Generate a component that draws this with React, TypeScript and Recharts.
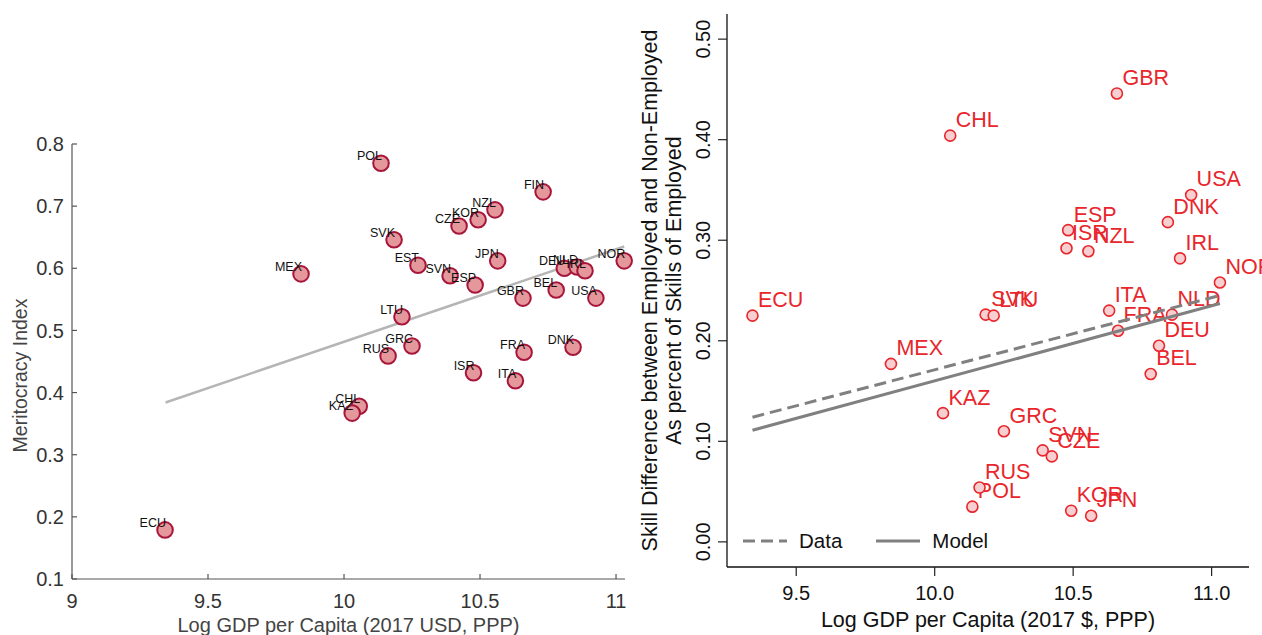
import React from 'react';
import { ComposedChart, Scatter, XAxis, YAxis, Legend } from 'recharts';

// left panel: meritocracy index vs log gdp
const leftCodes = ['ECU', 'MEX', 'POL', 'SVK', 'EST', 'LTU', 'RUS', 'GRC', 'CHL', 'KAZ', 'SVN', 'ESP', 'CZE', 'KOR', 'NZL', 'JPN', 'FIN', 'ISR', 'ITA', 'FRA', 'GBR', 'BEL', 'DNK', 'USA', 'DEU', 'NLD', 'IRL', 'NOR'];
const leftGdp = [9.342, 9.842, 10.136, 10.184, 10.272, 10.213, 10.162, 10.25, 10.056, 10.03, 10.39, 10.482, 10.423, 10.493, 10.555, 10.565, 10.732, 10.476, 10.63, 10.662, 10.658, 10.78, 10.842, 10.926, 10.81, 10.857, 10.886, 11.03];
const meritocracy = [0.179, 0.591, 0.769, 0.646, 0.605, 0.522, 0.459, 0.475, 0.378, 0.367, 0.588, 0.573, 0.668, 0.678, 0.694, 0.612, 0.723, 0.432, 0.419, 0.465, 0.552, 0.565, 0.473, 0.552, 0.6, 0.602, 0.596, 0.612];
const fitX = [9.344, 11.03];
const fitY = [0.384, 0.635];
const leftXTicks = [9, 9.5, 10, 10.5, 11];
const leftYTicks = [0.1, 0.2, 0.3, 0.4, 0.5, 0.6, 0.7, 0.8];

// right panel: skill gap vs log gdp
const rightCodes = ['ECU', 'MEX', 'KAZ', 'CHL', 'POL', 'RUS', 'SVK', 'LTU', 'GRC', 'SVN', 'CZE', 'ISR', 'ESP', 'KOR', 'NZL', 'JPN', 'ITA', 'GBR', 'FRA', 'BEL', 'DEU', 'DNK', 'NLD', 'IRL', 'USA', 'NOR'];
const rightGdp = [9.342, 9.842, 10.03, 10.056, 10.136, 10.162, 10.184, 10.213, 10.25, 10.39, 10.423, 10.476, 10.482, 10.493, 10.555, 10.565, 10.63, 10.658, 10.662, 10.78, 10.81, 10.842, 10.857, 10.886, 10.926, 11.03];
const skillGap = [0.225, 0.177, 0.128, 0.404, 0.035, 0.054, 0.226, 0.225, 0.11, 0.091, 0.085, 0.292, 0.31, 0.031, 0.289, 0.026, 0.23, 0.446, 0.21, 0.167, 0.195, 0.318, 0.226, 0.282, 0.345, 0.258];
const lineX = [9.342, 11.03];
const dataLineY = [0.124, 0.245];
const modelLineY = [0.111, 0.237];
const rightXTicks = [9.5, 10, 10.5, 11];
const rightYTicks = [0, 0.1, 0.2, 0.3, 0.4, 0.5];
const legendItems = [
  { name: 'Data', dash: '12 6' },
  { name: 'Model', dash: undefined },
];

const FONT = '"Liberation Sans", Arial, Helvetica, sans-serif';
const GRAY_LINE = '#808080';

const leftPoints = leftCodes.map((code, i) => ({ code, x: leftGdp[i], y: meritocracy[i] }));
const leftFit = fitX.map((x, i) => ({ x, y: fitY[i] }));
const rightPoints = rightCodes.map((code, i) => ({ code, x: rightGdp[i], y: skillGap[i] }));
const dataLine = lineX.map((x, i) => ({ x, y: dataLineY[i] }));
const modelLine = lineX.map((x, i) => ({ x, y: modelLineY[i] }));

// markers
const LeftMarker = (props: any) => {
  const { cx, cy, payload } = props;
  if (cx == null || cy == null) return null;
  return (
    <g>
      <circle cx={cx} cy={cy} r={7.8} fill="#e4989c" stroke="#a8153a" strokeWidth={2} />
      <text x={cx + 1} y={cy - 3} textAnchor="end" fontSize={12.5} fill="#111" fontFamily={FONT}>{payload.code}</text>
    </g>
  );
};

const RightMarker = (props: any) => {
  const { cx, cy, payload } = props;
  if (cx == null || cy == null) return null;
  return (
    <g>
      <circle cx={cx} cy={cy} r={5.5} fill="#f8cfd1" stroke="#e8262b" strokeWidth={1.6} />
      <text x={cx + 5.5} y={cy - 8.5} fontSize={21.5} fill="#e8262b" fontFamily={FONT}>{payload.code}</text>
    </g>
  );
};

const NoShape = () => <g />;

// ticks (left panel: inward ticks, stata style)
const LeftYTick = (props: any) => {
  const { x, y, payload } = props;
  return (
    <g>
      <line x1={x} x2={x + 5} y1={y} y2={y} stroke="#555" strokeWidth={1.2} />
      <text x={x - 8} y={y} dy="0.36em" textAnchor="end" fontSize={20} fill="#333" fontFamily={FONT}>{String(payload.value)}</text>
    </g>
  );
};

const LeftXTick = (props: any) => {
  const { x, y, payload } = props;
  return (
    <g>
      <line x1={x} x2={x} y1={y} y2={y - 5} stroke="#555" strokeWidth={1.2} />
      <text x={x} y={y + 29} textAnchor="middle" fontSize={20} fill="#333" fontFamily={FONT}>{String(payload.value)}</text>
    </g>
  );
};

const RightYTick = (props: any) => {
  const { x, y, payload } = props;
  const tx = x - 17;
  return (
    <g>
      <line x1={x - 9} x2={x} y1={y} y2={y} stroke="#222" strokeWidth={1.2} />
      <text transform={`translate(${tx}, ${y}) rotate(-90)`} x={0} y={0} textAnchor="middle" fontSize={20} fill="#111" fontFamily={FONT}>{payload.value.toFixed(2)}</text>
    </g>
  );
};

const RightXTick = (props: any) => {
  const { x, y, payload } = props;
  return (
    <g>
      <line x1={x} x2={x} y1={y} y2={y + 9} stroke="#222" strokeWidth={1.2} />
      <text x={x} y={y + 33} textAnchor="middle" fontSize={20} fill="#111" fontFamily={FONT}>{payload.value.toFixed(1)}</text>
    </g>
  );
};

// axis titles
const leftXTitle = (props: any) => {
  const vb = props.viewBox;
  return (
    <text x={vb.x + vb.width / 2} y={vb.y + 53} textAnchor="middle" fontSize={20} fill="#444" fontFamily={FONT}>
      Log GDP per Capita (2017 USD, PPP)
    </text>
  );
};

const leftYTitle = (props: any) => {
  const vb = props.viewBox;
  const cx = vb.x + 27;
  const cy = vb.y + vb.height / 2 + 14;
  return (
    <text transform={`translate(${cx}, ${cy}) rotate(-90)`} x={0} y={0} textAnchor="middle" fontSize={19.5} fill="#444" fontFamily={FONT}>
      Meritocracy Index
    </text>
  );
};

const rightXTitle = (props: any) => {
  const vb = props.viewBox;
  return (
    <text x={vb.x + vb.width / 2} y={vb.y + 60} textAnchor="middle" fontSize={21.5} fill="#111" fontFamily={FONT}>
      Log GDP per Capita (2017 $, PPP)
    </text>
  );
};

const rightYTitle = (props: any) => {
  const vb = props.viewBox;
  const cy = vb.y + vb.height / 2;
  return (
    <g>
      <text transform={`translate(${vb.x + 17}, ${cy}) rotate(-90)`} x={0} y={0} textAnchor="middle" fontSize={21.5} fill="#111" fontFamily={FONT}>
        Skill Difference between Employed and Non-Employed
      </text>
      <text transform={`translate(${vb.x + 41}, ${cy}) rotate(-90)`} x={0} y={0} textAnchor="middle" fontSize={21.5} fill="#111" fontFamily={FONT}>
        As percent of Skills of Employed
      </text>
    </g>
  );
};

const RightLegend = () => (
  <div style={{ display: 'flex', alignItems: 'center', fontFamily: FONT, fontSize: 20.5, color: '#111', whiteSpace: 'nowrap' }}>
    {legendItems.map((item, i) => (
      <div key={item.name} style={{ display: 'flex', alignItems: 'center', marginRight: i === 0 ? 34 : 0 }}>
        <svg width={44} height={8} style={{ marginRight: 12 }}>
          <line x1={0} x2={44} y1={4} y2={4} stroke={GRAY_LINE} strokeWidth={3} strokeDasharray={item.dash} />
        </svg>
        <span>{item.name}</span>
      </div>
    ))}
  </div>
);

export default function App() {
  return (
    <div style={{ position: 'absolute', left: 0, top: 0, width: 1262, height: 635, background: '#fff', overflow: 'hidden' }}>
      <div style={{ position: 'absolute', left: 0, top: 0 }}>
        <ComposedChart width={640} height={635} margin={{ top: 144, right: 15, left: 0, bottom: 0 }}>
          <XAxis
            type="number"
            dataKey="x"
            domain={[9, 11.033]}
            ticks={leftXTicks}
            interval={0}
            height={56}
            tickSize={0}
            tickMargin={0}
            tick={<LeftXTick />}
            axisLine={{ stroke: '#555', strokeWidth: 1.2 }}
            label={leftXTitle}
          />
          <YAxis
            type="number"
            dataKey="y"
            domain={[0.1, 0.8]}
            ticks={leftYTicks}
            interval={0}
            width={72}
            tickSize={0}
            tickMargin={0}
            tick={<LeftYTick />}
            axisLine={{ stroke: '#555', strokeWidth: 1.2 }}
            label={leftYTitle}
          />
          <Scatter data={leftFit} fill="#b5b5b5" shape={NoShape} line={{ stroke: '#b5b5b5', strokeWidth: 2.5 }} isAnimationActive={false} legendType="none" />
          <Scatter data={leftPoints} shape={LeftMarker} isAnimationActive={false} legendType="none" />
        </ComposedChart>
      </div>
      <div style={{ position: 'absolute', left: 640, top: 0 }}>
        <ComposedChart width={622} height={635} margin={{ top: 14, right: 13, left: 0, bottom: 0 }}>
          <XAxis
            type="number"
            dataKey="x"
            domain={[9.25, 11.135]}
            ticks={rightXTicks}
            interval={0}
            height={68}
            tickSize={0}
            tickMargin={0}
            tick={<RightXTick />}
            axisLine={{ stroke: '#111', strokeWidth: 1.3 }}
            label={rightXTitle}
          />
          <XAxis xAxisId="top" orientation="top" type="number" domain={[9.25, 11.135]} height={0} tick={false} tickLine={false} axisLine={{ stroke: '#111', strokeWidth: 1.3 }} />
          <YAxis
            type="number"
            dataKey="y"
            domain={[-0.025, 0.525]}
            ticks={rightYTicks}
            interval={0}
            width={87}
            tickSize={0}
            tickMargin={0}
            tick={<RightYTick />}
            axisLine={{ stroke: '#111', strokeWidth: 1.3 }}
            label={rightYTitle}
          />
          <YAxis yAxisId="right" orientation="right" type="number" domain={[-0.025, 0.525]} width={0} tick={false} tickLine={false} axisLine={{ stroke: '#111', strokeWidth: 1.3 }} />
          <Scatter data={rightPoints} shape={RightMarker} isAnimationActive={false} legendType="none" />
          <Scatter data={dataLine} fill={GRAY_LINE} shape={NoShape} line={{ stroke: GRAY_LINE, strokeWidth: 3, strokeDasharray: '12 6' }} isAnimationActive={false} legendType="none" />
          <Scatter data={modelLine} fill={GRAY_LINE} shape={NoShape} line={{ stroke: GRAY_LINE, strokeWidth: 3 }} isAnimationActive={false} legendType="none" />
          <Legend
            layout="horizontal"
            verticalAlign="middle"
            align="center"
            wrapperStyle={{ position: 'absolute', left: 103, top: 529, width: 'auto', height: 'auto' }}
            content={() => <RightLegend />}
          />
        </ComposedChart>
      </div>
    </div>
  );
}
